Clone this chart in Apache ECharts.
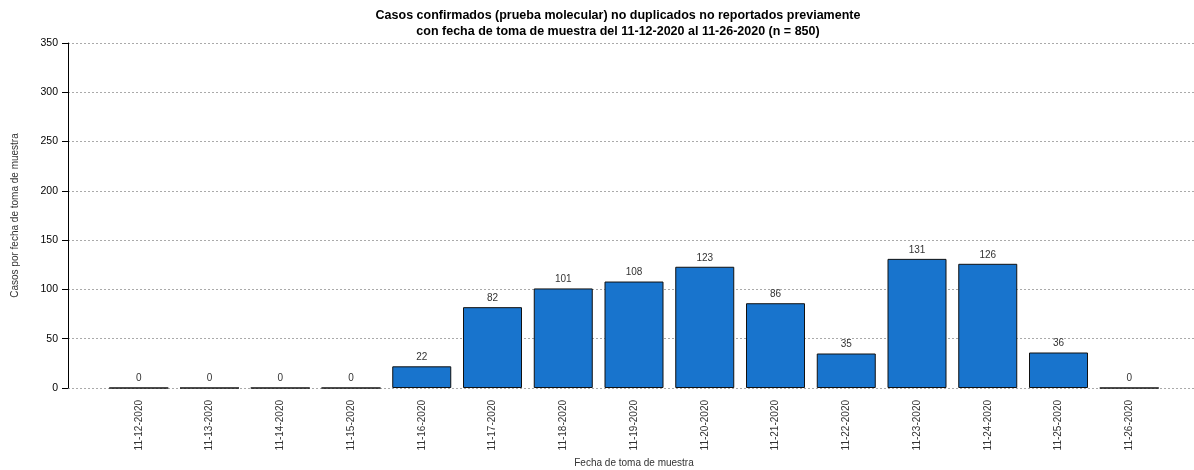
<!DOCTYPE html>
<html>
<head>
<meta charset="utf-8">
<script src="https://cdn.jsdelivr.net/npm/echarts@6/dist/echarts.min.js"></script>
<style>html,body{margin:0;padding:0;background:#fff}#c{width:1194px;height:470px}</style>
</head>
<body>
<div id="c"></div>
<script>
var categories = ['11-12-2020','11-13-2020','11-14-2020','11-15-2020','11-16-2020','11-17-2020','11-18-2020','11-19-2020','11-20-2020','11-21-2020','11-22-2020','11-23-2020','11-24-2020','11-25-2020','11-26-2020'];
var casos = [0,0,0,0,22,82,101,108,123,86,35,131,126,36,0];
var yTicks = [0,50,100,150,200,250,300,350];
var titleLines = ['Casos confirmados (prueba molecular) no duplicados no reportados previamente','con fecha de toma de muestra del 11-12-2020 al 11-26-2020 (n = 850)'];

var chart = echarts.init(document.getElementById('c'), null, {renderer:'canvas'});
var font = 'Liberation Sans, Arial, sans-serif';
chart.setOption({
  animation:false,
  textStyle:{fontFamily:font},
  title:{
    text: titleLines.join('\n'),
    left: 613, top: 3, textAlign:'center',
    textStyle:{fontFamily:font, fontSize:12.5, fontWeight:'bold', color:'#000', lineHeight:15.5}
  },
  grid:{left:68, right:-6, top:43, bottom:82, containLabel:false, outerBoundsMode:'none'},
  xAxis:{
    type:'value', min:-1, max:15, interval:1,
    name:'Fecha de toma de muestra', nameLocation:'middle', nameGap:70,
    nameTextStyle:{fontSize:10, color:'#333', fontFamily:font},
    axisLine:{show:false}, axisTick:{show:false}, splitLine:{show:false},
    axisLabel:{rotate:90, margin:12, fontSize:10, color:'#333', fontFamily:font,
      formatter:function(v){ return (v>=0 && v<categories.length && v===Math.round(v)) ? categories[v] : ''; }}
  },
  yAxis:{
    type:'value', min:0, max:350, interval:50,
    name:'Casos por fecha de toma de muestra', nameLocation:'middle', nameGap:48,
    nameTextStyle:{fontSize:10, color:'#333', fontFamily:font},
    axisLine:{show:true, onZero:false, lineStyle:{color:'#000', width:1}},
    axisTick:{show:true, length:6, lineStyle:{color:'#000'}},
    axisLabel:{fontSize:10.5, color:'#000', margin:10, fontFamily:font,
      formatter:function(v){ return yTicks.indexOf(v)>=0 ? String(v) : ''; }},
    splitLine:{show:true, lineStyle:{color:'#aaa', type:[2,2], width:1}}
  },
  series:[{
    type:'bar',
    data: casos.map(function(v,i){ return [i,v]; }),
    barWidth: 59,
    itemStyle:{color:'#1874CD', borderColor:'#111', borderWidth:1},
    label:{show:true, position:'top', distance:4, fontSize:10, color:'#333', fontFamily:font,
      formatter:function(p){ return String(p.value[1]); }}
  }]
});
</script>
</body>
</html>
